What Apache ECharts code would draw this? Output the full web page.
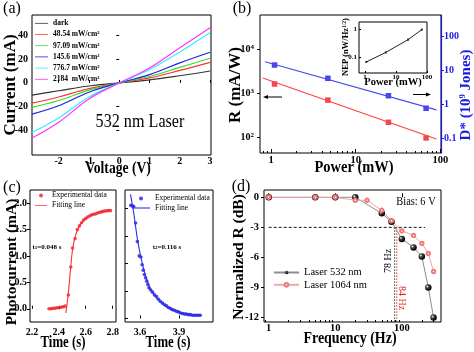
<!DOCTYPE html>
<html>
<head>
<meta charset="utf-8">
<script src="https://cdn.jsdelivr.net/npm/echarts@6/dist/echarts.min.js"></script>
<style>
html, body { margin: 0; padding: 0; background: #fff; }
#fig { width: 474px; height: 352px; }
</style>
</head>
<body>
<div id="fig"></div>
<script>
// (a) I-V curves under 532 nm light
var voltage = [-2.88, -2, -1, 0, 1, 2, 3];
var ivDark = [-10.3, -6.6, -2.6, 0, 2.5, 6.0, 10.0];
var iv48 = [-17.0, -11.8, -4.8, 0, 4.2, 10.5, 17.3];
var iv97 = [-20.5, -14.8, -6.0, 0, 5.4, 13.0, 20.7];
var iv145 = [-26.2, -19.2, -7.8, 0, 7.0, 16.8, 25.7];
var iv776 = [-41.6, -29.5, -11.8, 0, 11.2, 26.0, 42.4];
var iv2184 = [-46.3, -33.0, -13.4, 0, 12.6, 29.5, 46.3];
var ivNames = ['dark', '48.54 mW/cm²', '97.09 mW/cm²', '145.6 mW/cm²', '776.7 mW/cm²', '2184  mW/cm²'];
var ivColors = ['#333333', '#ff3030', '#33dd33', '#2020dd', '#33eeff', '#ff33ff'];

// (b) responsivity / detectivity vs power
var power = [1.1, 4.7, 24.4, 68];
var respR = [1600, 690, 216, 95];
var detD = [14, 5.7, 1.75, 0.75];
var respFitP = [0.8, 90];
var respFit = [2200, 90];
var detFitP = [0.85, 90];
var detFit = [17.5, 0.67];
var nep = [0.066, 0.147, 0.43, 1.0];
var bMinor = [0.8, 0.9, 2, 3, 4, 5, 6, 7, 8, 9, 20, 30, 40, 50, 60, 70, 80, 90];

// (c) rise and decay
var riseT = [2.327, 2.342, 2.357, 2.372, 2.387, 2.402, 2.417, 2.432, 2.447, 2.471, 2.489, 2.502, 2.521, 2.538, 2.553,
  2.569, 2.584, 2.600, 2.614, 2.631, 2.646, 2.661, 2.676, 2.692, 2.708, 2.723, 2.738, 2.755, 2.770, 2.784];
var riseI = [0.00, 0.00, 0.01, 0.01, 0.02, 0.02, 0.03, 0.04, 0.05, 0.26, 0.79, 1.15, 1.33, 1.50, 1.57,
  1.63, 1.68, 1.71, 1.74, 1.76, 1.78, 1.79, 1.80, 1.82, 1.83, 1.84, 1.85, 1.855, 1.86, 1.86];
var riseFitT = [2.452, 2.462, 2.471, 2.480, 2.489, 2.500, 2.515, 2.535, 2.560, 2.600, 2.650, 2.700, 2.784];
var riseFitI = [-0.08, 0.10, 0.30, 0.55, 0.80, 1.08, 1.30, 1.47, 1.60, 1.71, 1.78, 1.82, 1.865];
var decayT = [3.530, 3.541, 3.552, 3.566, 3.580, 3.594, 3.607, 3.616, 3.625, 3.634, 3.643, 3.652, 3.660, 3.668,
  3.682, 3.696, 3.711, 3.727, 3.742, 3.757, 3.773, 3.788, 3.803, 3.818, 3.834, 3.849, 3.864, 3.879, 3.895,
  3.910, 3.925, 3.941, 3.956, 3.971, 3.986, 4.002, 4.017, 4.032, 4.047, 4.062];
var decayI = [2.06, 2.05, 2.04, 1.74, 1.40, 1.14, 1.12, 0.98, 0.88, 0.80, 0.74, 0.68, 0.62, 0.56,
  0.52, 0.48, 0.43, 0.40, 0.35, 0.31, 0.28, 0.25, 0.23, 0.20, 0.18, 0.16, 0.15, 0.13, 0.12,
  0.10, 0.09, 0.08, 0.08, 0.07, 0.07, 0.06, 0.06, 0.06, 0.06, 0.06];
var decayFitT = [3.527, 3.550, 3.580, 3.610, 3.650, 3.700, 3.750, 3.800, 3.900, 4.000, 4.062];
var decayFitI = [2.26, 1.95, 1.45, 1.08, 0.72, 0.46, 0.31, 0.22, 0.12, 0.07, 0.06];

// (d) frequency response
var freq532 = [1, 5, 10, 20, 50, 70, 100, 150, 200, 250, 300];
var db532 = [0, 0, 0, 0, -1.6, -2.45, -4.15, -5.0, -5.9, -9.0, -12.0];
var freq1064 = [1, 5, 10, 20, 30, 50, 70, 100, 150, 200, 250, 300];
var db1064 = [0, 0, 0, -0.3, -0.3, -1.3, -2.35, -3.35, -3.8, -4.6, -5.6, -7.4];
var dashF = [1, 224];
var dashDb = [-3, -3];
var cut532 = 78, cut1064 = 84;
var dMinor = [0.9, 2, 3, 4, 5, 6, 7, 8, 9, 20, 30, 40, 50, 60, 70, 80, 90, 200, 300];

var serif = '"Liberation Serif", "Times New Roman", serif';
var lineIcon = 'path://M0,0H20V1.2H0Z';
var chart = echarts.init(document.getElementById('fig'));

function pairs(xs, ys) {
  return xs.map(function (x, i) { return [x, ys[i]]; });
}

function axis(type, grid, min, max, ticks, o) {
  o = o || {};
  var c = o.color || '#000';
  return {
    type: type, gridIndex: grid, min: min, max: max, position: o.position,
    splitLine: { show: false },
    axisLine: { show: !!o.line, lineStyle: { color: c, width: 1.2 } },
    axisTick: { show: o.noTick ? false : true, customValues: o.tickValues || ticks, inside: !!o.inside,
      length: o.tickLen || 3, lineStyle: { color: c } },
    axisLabel: { show: o.noLabel ? false : true, customValues: ticks, margin: o.margin == null ? 3 : o.margin,
      color: c, fontFamily: serif, fontWeight: 'bold', fontSize: o.size || 10,
      formatter: o.fmt, rich: o.rich }
  };
}
function fixed1(v) { return v.toFixed(1); }
function plain(v) { return String(+v.toPrecision(3)); }
function pow10(v) { return '10{s|' + Math.round(Math.log10(v)) + '}'; }

function txt(text, x, y, o) {
  o = o || {};
  return {
    type: 'text', x: x, y: y, rotation: o.rot || 0, scaleX: o.sx || 1,
    style: { text: text, fill: o.color || '#000', fontFamily: serif, fontSize: o.size || 17,
      fontWeight: o.bold === false ? 'normal' : 'bold', align: 'center', verticalAlign: 'middle',
      textAlign: 'center', textVerticalAlign: 'middle', rich: o.rich }
  };
}

var series = [];
[ivDark, iv48, iv97, iv145, iv776, iv2184].forEach(function (ys, i) {
  series.push({ name: ivNames[i], type: 'line', xAxisIndex: 0, yAxisIndex: 0, data: pairs(voltage, ys),
    smooth: 0.4, symbol: 'none', lineStyle: { color: ivColors[i], width: 1.2 }, itemStyle: { color: ivColors[i] } });
});
series.push(
  { type: 'line', xAxisIndex: 1, yAxisIndex: 1, data: pairs(respFitP, respFit), symbol: 'none',
    lineStyle: { color: '#ff4040', width: 1.2 } },
  { type: 'scatter', xAxisIndex: 1, yAxisIndex: 1, data: pairs(power, respR), symbol: 'rect', symbolSize: 5.5,
    itemStyle: { color: '#ee1c25' } },
  { type: 'line', xAxisIndex: 1, yAxisIndex: 2, data: pairs(detFitP, detFit), symbol: 'none',
    lineStyle: { color: '#4848f0', width: 1.2 } },
  { type: 'scatter', xAxisIndex: 1, yAxisIndex: 2, data: pairs(power, detD), symbol: 'rect', symbolSize: 5.5,
    itemStyle: { color: '#1a1ae0' } },
  { type: 'line', xAxisIndex: 2, yAxisIndex: 3, data: pairs(power, nep), symbol: 'rect', symbolSize: 2,
    lineStyle: { color: '#222', width: 1 }, itemStyle: { color: '#222' } },
  { name: 'riseExp', type: 'scatter', xAxisIndex: 3, yAxisIndex: 4, data: pairs(riseT, riseI), symbolSize: 3.6,
    itemStyle: { color: '#ee1c25' } },
  { name: 'riseFit', type: 'line', xAxisIndex: 3, yAxisIndex: 4, data: pairs(riseFitT, riseFitI), symbol: 'none',
    smooth: 0.3, lineStyle: { color: '#ff3030', width: 1.1 }, itemStyle: { color: '#ff3030' } },
  { name: 'decayExp', type: 'scatter', xAxisIndex: 4, yAxisIndex: 5, data: pairs(decayT, decayI), symbolSize: 3.6,
    itemStyle: { color: '#1a1ae0' } },
  { name: 'decayFit', type: 'line', xAxisIndex: 4, yAxisIndex: 5, data: pairs(decayFitT, decayFitI), symbol: 'none',
    smooth: 0.3, lineStyle: { color: '#3030e8', width: 1.1 }, itemStyle: { color: '#3030e8' } },
  { type: 'line', xAxisIndex: 5, yAxisIndex: 6, data: pairs(dashF, dashDb), symbol: 'none',
    lineStyle: { color: '#000', width: 0.9, type: [3, 2] } },
  { type: 'line', xAxisIndex: 5, yAxisIndex: 6, data: [[cut532, -3], [cut532, -12.44]], symbol: 'none',
    lineStyle: { color: '#222', width: 0.9, type: [1.5, 1.5] } },
  { type: 'line', xAxisIndex: 5, yAxisIndex: 6, data: [[cut1064, -3], [cut1064, -12.44]], symbol: 'none',
    lineStyle: { color: '#e02020', width: 0.9, type: [1.5, 1.5] } },
  { name: 'Laser 532 nm', type: 'line', xAxisIndex: 5, yAxisIndex: 6, data: pairs(freq532, db532),
    symbol: 'circle', symbolSize: 6.5, lineStyle: { color: '#8c8c8c', width: 1 },
    itemStyle: { color: new echarts.graphic.RadialGradient(0.35, 0.35, 0.65,
      [{ offset: 0, color: '#ffffff' }, { offset: 0.35, color: '#444' }, { offset: 1, color: '#000' }]) } },
  { name: 'Laser 1064 nm', type: 'line', xAxisIndex: 5, yAxisIndex: 6, data: pairs(freq1064, db1064),
    symbol: 'emptyCircle', symbolSize: 3.5, lineStyle: { color: '#f5a5a5', width: 1 },
    itemStyle: { color: '#f07878', borderWidth: 0.9 } }
);

var option = {
  animation: false,
  backgroundColor: '#fff',
  grid: [
    { left: 32, top: 15, width: 179, height: 140 },
    { left: 260, top: 15, width: 181, height: 138 },
    { left: 359, top: 22, width: 68, height: 51, backgroundColor: '#fff' },
    { left: 30, top: 190, width: 86, height: 132 },
    { left: 125, top: 190, width: 88, height: 132 },
    { left: 264, top: 190, width: 177, height: 132 }
  ].map(function (g) {
    return Object.assign({ show: true, borderColor: '#000', borderWidth: 1, containLabel: false, outerBoundsMode: 'none' }, g);
  }),
  xAxis: [
    axis('value', 0, -2.88, 3.03, [-2, -1, 0, 1, 2, 3], { inside: true, margin: 1 }),
    axis('log', 1, 0.741, 102, [1, 10, 100], { inside: true, margin: 2, size: 10.5, fmt: plain, tickLen: 4 }),
    axis('log', 2, 0.64, 100, [1, 10, 100], { inside: true, margin: 1, size: 7, fmt: plain, tickLen: 2 }),
    axis('value', 3, 2.186, 2.825, [2.2, 2.4, 2.6, 2.8], { inside: true, margin: 5, fmt: fixed1 }),
    axis('value', 4, 3.485, 4.16, [3.6, 3.9], { inside: true, margin: 5, fmt: fixed1 }),
    axis('log', 5, 0.85, 388, [1, 10, 100], { inside: true, margin: 1, size: 10.5, fmt: plain, tickLen: 4 }),
    axis('log', 1, 0.741, 102, bMinor, { inside: true, noLabel: true, tickLen: 2, position: 'bottom' }),
    axis('log', 5, 0.85, 388, dMinor, { inside: true, noLabel: true, tickLen: 2, position: 'bottom' })
  ],
  yAxis: [
    axis('value', 0, -60.5, 57, [-40, -20, 0, 20, 40], { margin: 4 }),
    axis('log', 1, 43.3, 59300, [100, 1000, 10000], { margin: 6, fmt: pow10,
      rich: { s: { fontSize: 7, fontWeight: 'bold', fontFamily: serif, color: '#000', verticalAlign: 'top' } } }),
    axis('log', 1, 0.0362, 415, [0.1, 1, 10, 100], { position: 'right', color: '#1a1ae0', line: true, margin: 3, fmt: plain }),
    axis('log', 2, 0.026, 1.9, [0.1, 1], { inside: true, margin: 2, size: 7, fmt: plain, tickLen: 2 }),
    axis('value', 3, -0.25, 2.25, [0, 0.5, 1, 1.5, 2], { margin: 3, fmt: fixed1 }),
    axis('value', 4, -0.064, 2.34, [0, 0.5, 1, 1.5, 2], { inside: true, noLabel: true }),
    axis('value', 5, -12.44, 0.73, [-12, -9, -6, -3, 0], { margin: 5, size: 10.5 })
  ],
  legend: [
    { data: ivNames.map(function (n) { return { name: n, icon: lineIcon }; }), left: 35, top: 19.3, orient: 'vertical',
      padding: 0, itemWidth: 13, itemHeight: 8, itemGap: 3.2,
      textStyle: { fontFamily: serif, fontWeight: 'bold', fontSize: 7.5, lineHeight: 8, color: '#000' } },
    { data: ['riseExp', { name: 'riseFit', icon: lineIcon }], left: 35, top: 191, orient: 'vertical', padding: 0,
      itemWidth: 12, itemHeight: 4, itemGap: 1,
      formatter: function (n) { return n === 'riseExp' ? 'Experimental data' : 'Fitting line'; },
      textStyle: { fontFamily: serif, fontSize: 7.5, lineHeight: 9, color: '#000' } },
    { data: ['decayExp', { name: 'decayFit', icon: lineIcon }], left: 132, top: 194, orient: 'vertical', padding: 0,
      itemWidth: 18, itemHeight: 4, itemGap: 0.5,
      formatter: function (n) { return n === 'decayExp' ? 'Experimental data' : 'Fitting line'; },
      textStyle: { fontFamily: serif, fontSize: 7.5, lineHeight: 9, color: '#000' } },
    { data: ['Laser 532 nm', 'Laser 1064 nm'], left: 273, top: 267, orient: 'vertical', padding: 0, itemWidth: 25,
      itemHeight: 4.5, itemGap: 1.3, textStyle: { fontFamily: serif, fontSize: 10.5, lineHeight: 10, color: '#000' } }
  ],
  graphic: [
    txt('(a)', 12, 9, { bold: false, size: 16 }),
    txt('(b)', 242, 9, { bold: false, size: 16 }),
    txt('(c)', 12, 188, { bold: false, size: 16 }),
    txt('(d)', 241, 187, { bold: false, size: 16 }),
    txt('Current (mA)', 11, 85, { rot: Math.PI / 2 }),
    txt('Voltage (V)', 118, 169, { sx: 0.8 }),
    txt('532 nm Laser', 140, 122, { bold: false, size: 19, sx: 0.85 }),
    txt('R (mA/W)', 236, 85, { rot: Math.PI / 2 }),
    txt('Power (mW)', 354, 168, { sx: 0.85 }),
    txt('D* (10{s|9} Jones)', 466, 95, { rot: Math.PI / 2, size: 15, color: '#1a1ae0',
      rich: { s: { fontSize: 8.5, fontWeight: 'bold', fontFamily: serif, fill: '#1a1ae0', color: '#1a1ae0', verticalAlign: 'top' } } }),
    txt('NEP (nW/Hz{s|1/2})', 346, 47, { rot: Math.PI / 2, size: 8.5,
      rich: { s: { fontSize: 5.5, fontWeight: 'bold', fontFamily: serif, verticalAlign: 'top' } } }),
    txt('Power (mW)', 393, 82, { size: 10.5 }),
    { type: 'line', shape: { x1: 282, y1: 97, x2: 267, y2: 97 }, style: { stroke: '#000', lineWidth: 1 } },
    { type: 'polygon', shape: { points: [[263, 97], [268, 95], [268, 99]] }, style: { fill: '#000' } },
    { type: 'line', shape: { x1: 413, y1: 94.5, x2: 427, y2: 94.5 }, style: { stroke: '#000', lineWidth: 1 } },
    { type: 'polygon', shape: { points: [[431, 94.5], [426, 92.5], [426, 96.5]] }, style: { fill: '#000' } },
    txt('Photocurrent (mA)', 12, 262, { rot: Math.PI / 2, size: 15.5 }),
    txt('Time (s)', 63, 343, { size: 16, sx: 0.8 }),
    txt('Time (s)', 168, 343, { size: 16, sx: 0.8 }),
    txt('t{b|1}=0.048 s', 47, 247, { size: 7,
      rich: { b: { fontSize: 5, fontWeight: 'bold', fontFamily: serif, verticalAlign: 'bottom' } } }),
    txt('t{b|2}=0.116 s', 167, 247, { size: 7,
      rich: { b: { fontSize: 5, fontWeight: 'bold', fontFamily: serif, verticalAlign: 'bottom' } } }),
    txt('Normalized R (dB)', 239, 257, { rot: Math.PI / 2, size: 15.5 }),
    txt('Frequency (Hz)', 350, 339, { sx: 0.82 }),
    txt('Bias: 6 V', 416, 202, { bold: false, size: 13, sx: 0.8 }),
    txt('78 Hz', 388, 261, { bold: false, size: 10, rot: Math.PI / 2 }),
    txt('84 Hz', 402, 298, { bold: false, size: 10, rot: -Math.PI / 2, color: '#e02020' })
  ],
  series: series
};
chart.setOption(option);
</script>
</body>
</html>
